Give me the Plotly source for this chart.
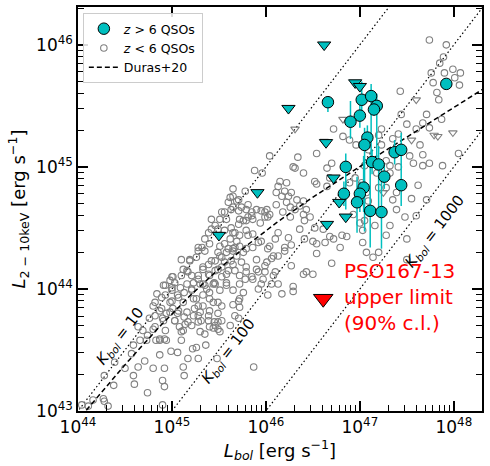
import numpy as np
import plotly.graph_objects as go

# all values are log10 of luminosity in erg/s

# z < 6 QSOs (detections), grouped by region of the plot
lowz_a_lbol = [44.04, 44.16, 44.27, 44.28, 44.32, 44.11, 44.28, 44.38, 44.39, 44.50,
               44.57, 44.59, 44.60, 44.64, 44.71, 44.74, 44.80, 44.87, 44.90, 44.92,
               44.92, 44.90, 44.99, 45.06, 45.12, 45.13, 45.17, 45.22, 45.26, 45.28,
               45.35, 45.36, 45.40, 45.45]
lowz_a_lx = [43.05, 43.09, 43.10, 43.08, 43.04, 43.04, 43.29, 43.21, 43.40, 43.35,
             43.47, 43.29, 43.22, 43.36, 43.41, 43.15, 43.35, 43.46, 43.25, 43.35,
             43.20, 43.05, 43.49, 43.48, 43.36, 43.29, 43.43, 43.51, 43.52, 43.43,
             43.63, 43.54, 43.69, 43.73]

lowz_b_lbol = [44.64, 44.69, 44.59, 44.66, 44.73, 44.74, 44.80, 44.83, 44.87, 44.92,
               44.94, 44.76, 44.82, 44.89, 44.90, 44.94, 44.98, 45.01, 45.03, 45.06,
               45.08, 45.10, 45.13, 45.17, 45.21, 45.24, 45.28, 45.31, 45.33, 45.40,
               45.44, 45.06, 45.13, 45.21, 45.03, 45.10, 45.17, 45.28, 45.35, 45.40,
               45.33, 45.26, 45.45, 44.82, 44.89]
lowz_b_lx = [43.69, 43.66, 43.54, 43.58, 43.58, 43.62, 43.67, 43.58, 43.58, 43.59,
             43.58, 43.76, 43.78, 43.84, 43.76, 43.80, 43.89, 43.84, 43.74, 43.80,
             43.69, 43.65, 43.77, 43.73, 43.70, 43.84, 43.78, 43.74, 43.86, 43.82,
             43.89, 43.95, 43.97, 44.00, 44.05, 44.11, 44.14, 44.08, 44.03, 43.97,
             43.95, 43.92, 44.05, 43.89, 43.93]

lowz_c_lbol = [45.88, 45.96, 45.78, 45.65, 45.60, 45.69, 45.63, 45.56, 45.51, 45.42,
               45.46, 45.74, 45.79, 45.85, 45.90, 45.95, 46.01, 46.04, 45.99, 45.72,
               45.79, 45.86, 45.94, 46.11, 45.65, 45.62, 45.69, 45.56, 45.72, 45.65,
               45.58, 45.51, 45.69, 45.76, 45.46, 45.56, 45.65, 45.39, 45.49, 45.60,
               45.33, 45.28, 45.40, 45.53, 45.23, 45.33, 45.46, 45.58, 45.10, 45.19,
               45.28, 45.32, 45.01, 44.93, 45.00, 45.86, 45.95, 46.02, 45.90, 46.01,
               46.08, 45.90, 45.99, 46.10, 45.86, 45.95, 46.06, 45.79, 45.78]
lowz_c_lx = [44.97, 44.95, 44.80, 44.76, 44.71, 44.72, 44.65, 44.63, 44.57, 44.57,
             44.52, 44.67, 44.65, 44.63, 44.65, 44.64, 44.65, 44.61, 44.59, 44.57,
             44.56, 44.57, 44.54, 44.69, 44.46, 44.41, 44.39, 44.37, 44.35, 44.33,
             44.30, 44.27, 44.27, 44.30, 44.23, 44.22, 44.20, 44.20, 44.16, 44.15,
             44.16, 44.11, 44.11, 44.10, 44.05, 44.04, 44.04, 44.05, 44.24, 44.23,
             44.31, 44.34, 44.10, 44.03, 44.01, 44.34, 44.39, 44.33, 44.24, 44.22,
             44.27, 44.16, 44.14, 44.14, 44.08, 44.04, 44.04, 44.18, 44.08]

lowz_d_lbol = [46.04, 46.34, 46.54, 46.31, 46.40, 46.65, 46.68, 46.15, 46.22, 46.52,
               46.54, 46.65, 46.13, 46.20, 46.11, 46.17, 46.24, 46.27, 46.33, 46.40,
               46.36, 46.43, 46.31, 46.40, 46.47, 46.41, 46.22, 46.26, 46.18, 46.26,
               45.99, 46.02, 45.85, 46.52, 46.61, 46.68, 46.63, 46.50, 46.41, 46.36,
               46.24, 46.13, 46.10, 46.20, 46.04, 45.86]
lowz_d_lx = [45.09, 45.08, 45.11, 44.99, 44.95, 44.99, 44.91, 44.88, 44.87, 44.88,
             44.86, 44.84, 44.84, 44.80, 44.79, 44.76, 44.76, 44.79, 44.73, 44.72,
             44.68, 44.65, 44.65, 44.61, 44.59, 44.56, 44.71, 44.67, 44.63, 44.59,
             44.63, 44.59, 44.60, 44.50, 44.49, 44.43, 44.38, 44.39, 44.41, 44.49,
             44.42, 44.46, 44.41, 44.34, 44.35, 44.45]

lowz_e_lbol = [47.74, 47.92, 47.89, 47.85, 47.76, 47.90, 47.99, 48.07, 48.01, 48.06,
               47.78, 47.82, 47.84, 47.43, 47.44, 47.71, 47.67, 47.87, 47.74, 47.60,
               47.50, 47.41, 47.35, 47.64, 47.67, 47.53, 47.57, 47.67, 47.74, 47.88,
               48.05, 47.62, 47.71, 47.55, 47.39, 47.35, 47.39, 47.41, 47.23, 47.20,
               47.23, 47.28, 47.32, 47.18, 47.32, 47.09, 47.02, 46.96, 46.89, 46.82,
               46.72, 46.29, 46.70, 47.05, 46.95, 47.02, 46.89, 47.07, 47.20, 47.28,
               47.09, 46.93, 47.05, 47.03, 47.00, 47.16, 47.32, 47.48, 47.60, 47.50,
               47.28, 47.03, 46.72, 46.86, 46.54, 46.79]
lowz_e_lx = [46.04, 46.00, 45.90, 45.85, 45.77, 45.77, 45.80, 45.77, 45.73, 45.67,
             45.69, 45.61, 45.55, 45.62, 45.43, 45.43, 45.36, 45.39, 45.32, 45.31,
             45.35, 45.27, 45.23, 45.18, 45.10, 45.09, 45.03, 45.01, 45.03, 45.01,
             45.11, 44.85, 44.73, 44.74, 44.79, 44.73, 44.65, 45.00, 45.31, 45.26,
             45.18, 45.05, 45.01, 44.95, 44.95, 45.14, 45.18, 45.18, 45.22, 45.25,
             45.31, 45.00, 45.03, 45.01, 44.91, 44.87, 44.87, 44.79, 44.83, 44.83,
             44.72, 44.61, 44.56, 44.48, 44.54, 44.52, 44.52, 44.59, 44.60, 44.41,
             44.44, 44.38, 44.41, 44.43, 44.37, 44.34]

lowz_f_lbol = [45.28, 45.35, 45.51, 45.60, 45.67, 45.79, 45.19, 45.26, 45.42, 45.53,
               45.63, 45.74, 45.12, 45.16, 45.21, 45.33, 45.39, 45.46, 45.53, 45.58,
               45.67, 45.72, 45.79, 44.98, 44.91, 45.00, 45.09, 45.16, 45.21, 45.30,
               45.37, 45.44, 45.51, 45.58, 45.65, 45.72, 45.76, 44.84, 44.93, 45.00,
               45.07, 45.12, 45.23, 45.28, 45.40, 45.49, 45.53, 45.71, 45.72, 44.80,
               44.87, 44.98, 45.07, 45.16, 45.23, 45.30, 45.39, 45.49, 45.53, 45.67,
               44.91, 45.03, 45.14, 45.28, 45.39, 45.46, 45.49, 44.82, 44.93, 45.12,
               45.30, 45.62, 44.87, 45.10]
lowz_f_lx = [44.34, 44.31, 44.35, 44.33, 44.34, 44.33, 44.24, 44.26, 44.23, 44.26,
             44.23, 44.22, 44.16, 44.15, 44.11, 44.18, 44.12, 44.15, 44.18, 44.12,
             44.15, 44.11, 44.14, 44.07, 44.03, 43.99, 44.01, 44.04, 43.99, 44.04,
             44.00, 44.04, 43.99, 44.03, 43.99, 44.04, 43.97, 43.96, 43.95, 43.90,
             43.93, 43.89, 43.92, 43.86, 43.92, 43.89, 43.86, 43.90, 43.85, 43.86,
             43.82, 43.81, 43.82, 43.81, 43.78, 43.81, 43.78, 43.80, 43.74, 43.78,
             43.74, 43.74, 43.71, 43.73, 43.74, 43.70, 43.67, 43.69, 43.66, 43.66,
             43.65, 43.70, 43.59, 43.58]

lowz_g_lbol = [45.81, 45.92, 46.27, 46.20, 46.13, 46.06, 45.99, 45.92, 45.85, 45.97,
               46.08, 46.13, 46.17, 46.02, 45.92, 46.29, 46.29, 46.40, 46.43, 46.50,
               46.54, 46.70, 46.81, 47.07, 47.14, 47.20, 47.50, 45.87, 46.27, 45.49,
               45.65, 45.00, 45.44, 45.49, 45.65, 45.72, 45.71, 45.51, 45.48, 45.71,
               45.62, 45.65, 45.71, 45.81, 45.53, 45.58, 45.42, 45.49, 45.56, 45.63,
               45.71, 45.76, 45.81, 45.67, 45.72, 45.79, 45.39, 45.35, 45.40, 45.65]
lowz_g_lx = [44.44, 44.38, 44.36, 44.31, 44.27, 44.25, 44.19, 44.14, 44.10, 44.08,
             44.11, 44.04, 43.96, 43.95, 44.00, 44.02, 43.98, 44.12, 44.14, 44.12,
             44.29, 44.21, 44.44, 44.30, 44.26, 44.30, 44.24, 43.36, 44.19, 44.30,
             44.31, 44.10, 43.68, 43.73, 43.87, 43.92, 43.76, 43.65, 43.43, 44.73,
             44.75, 44.67, 44.64, 44.69, 44.63, 44.57, 44.49, 44.49, 44.48, 44.50,
             44.53, 44.56, 44.59, 44.46, 44.44, 44.48, 44.46, 44.41, 44.37, 44.82]

# z < 6 upper limits
lowz_ul_lbol = [47.60, 47.79, 47.83, 47.99, 46.82, 47.25, 46.62, 46.31, 47.55]
lowz_ul_lx = [45.55, 45.26, 45.25, 45.28, 45.39, 44.79, 45.21, 45.31, 45.22]

# z > 6 QSOs with detections, errors in dex
hiz_lbol = [46.66, 47.02, 47.12, 47.18, 47.15, 47.00, 46.90, 47.08, 47.05, 47.37,
            47.44, 46.85, 47.13, 47.20, 47.26, 47.44, 47.04, 47.00, 46.83, 46.97,
            47.11, 47.23, 47.92]
hiz_lx = [45.53, 45.55, 45.58, 45.50, 45.47, 45.42, 45.37, 45.24, 45.18, 45.12,
          45.14, 45.00, 45.04, 45.02, 44.92, 44.85, 44.83, 44.78, 44.78, 44.71,
          44.64, 44.63, 45.68]
hiz_err_up = [0.03, 0.15, 0.10, 0.10, 0.05, 0.10, 0.17, 0.10, 0.14, 0.10,
              0.05, 0.11, 0.10, 0.15, 0.10, 0.43, 0.26, 0.10, 0.10, 0.21,
              0.40, 0.40, 0.03]
hiz_err_dn = [0.08, 0.15, 0.50, 0.45, 0.05, 0.10, 0.14, 0.10, 0.71, 0.10,
              0.05, 0.35, 0.10, 0.37, 0.10, 0.17, 0.20, 0.15, 0.10, 0.25,
              0.30, 0.30, 0.03]

# z > 6 upper limits
hiz_ul_lbol = [46.62, 46.24, 46.95, 47.00, 46.64, 45.91, 46.72, 46.78, 46.85, 46.65, 45.50]
hiz_ul_lx = [46.00, 45.48, 45.69, 45.66, 45.20, 44.79, 44.91, 44.71, 44.59, 44.53, 44.44]

# PSO167-13
pso_lbol = [46.61]
pso_lx = [43.92]

# Duras+20 bolometric correction parameters
duras_a, duras_b, duras_c = 10.96, 11.93, 17.79
L_SUN = 3.828e33
kbol_values = [10, 100, 1000]

FONT = "DejaVu Sans"
CYAN = "#00bfbf"
GREY = "#808080"


def lin(v):
    return [10.0 ** x for x in v]


lowz_lbol = (lowz_a_lbol + lowz_b_lbol + lowz_c_lbol + lowz_d_lbol
             + lowz_e_lbol + lowz_f_lbol + lowz_g_lbol)
lowz_lx = (lowz_a_lx + lowz_b_lx + lowz_c_lx + lowz_d_lx
           + lowz_e_lx + lowz_f_lx + lowz_g_lx)

fig = go.Figure()

# constant Kbol lines
lb_line = np.array([1e43, 1e49])
for k in kbol_values:
    fig.add_trace(go.Scatter(x=lb_line, y=lb_line / k, mode="lines",
                             line=dict(color="black", width=1.2, dash="1.5px,2.5px"),
                             showlegend=False, hoverinfo="skip"))

fig.add_trace(go.Scatter(x=lin(lowz_lbol), y=lin(lowz_lx), mode="markers",
                         marker=dict(symbol="circle-open", size=6.5, color=GREY,
                                     line=dict(width=1.1, color=GREY)),
                         name="<i>z</i> < 6 QSOs", legendrank=2))
fig.add_trace(go.Scatter(x=lin(lowz_ul_lbol), y=lin(lowz_ul_lx), mode="markers",
                         marker=dict(symbol="triangle-down-open", size=7.5, color=GREY,
                                     line=dict(width=1.1, color=GREY)),
                         showlegend=False))

# Duras+20 relation
lb = np.logspace(43.5, 48.8, 200)
kx = duras_a * (1 + (np.log10(lb / L_SUN) / duras_b) ** duras_c)
fig.add_trace(go.Scatter(x=lb, y=lb / kx, mode="lines",
                         line=dict(color="black", width=1.5, dash="5px,3px"),
                         name="Duras+20", legendrank=3, hoverinfo="skip"))

y_hiz = np.array(hiz_lx)
err_up = 10 ** (y_hiz + np.array(hiz_err_up)) - 10 ** y_hiz
err_dn = 10 ** y_hiz - 10 ** (y_hiz - np.array(hiz_err_dn))
fig.add_trace(go.Scatter(x=lin(hiz_lbol), y=lin(hiz_lx), mode="markers",
                         marker=dict(symbol="circle", size=11.5, color=CYAN,
                                     line=dict(width=1, color="black")),
                         error_y=dict(type="data", symmetric=False, array=err_up,
                                      arrayminus=err_dn, color=CYAN, thickness=1.5, width=0),
                         name="<i>z</i> > 6 QSOs", legendrank=1))
fig.add_trace(go.Scatter(x=lin(hiz_ul_lbol), y=lin(hiz_ul_lx), mode="markers",
                         marker=dict(symbol="triangle-down", size=11.5, color=CYAN,
                                     line=dict(width=1, color="black")),
                         showlegend=False))
fig.add_trace(go.Scatter(x=lin(pso_lbol), y=lin(pso_lx), mode="markers",
                         marker=dict(symbol="triangle-down", size=17, color="red",
                                     line=dict(width=1, color="black")),
                         showlegend=False))

# helper trace so the top axis (major ticks only) is drawn
fig.add_trace(go.Scatter(x=[1e45], y=[1e44], xaxis="x2", mode="markers",
                         marker=dict(opacity=0), showlegend=False, hoverinfo="skip"))

x_exp = list(range(44, 49))
y_exp = list(range(43, 47))
x_major = [10.0 ** e for e in x_exp]
y_major = [10.0 ** e for e in y_exp]
minor_vals = [m * 10.0 ** e for e in range(43, 49) for m in range(2, 10)]


def sup_labels(exps):
    return ["10<sup>%d</sup>" % e for e in exps]


axis_common = dict(type="log", showgrid=False, zeroline=False, showline=True,
                   linecolor="black", linewidth=1.5, ticks="inside", ticklen=10,
                   tickwidth=1.5, tickcolor="black", automargin=False,
                   tickfont=dict(family=FONT, size=17, color="black"),
                   minor=dict(tickvals=minor_vals, ticks="inside", ticklen=6,
                              tickwidth=1, tickcolor="black"))

fig.update_layout(
    width=490, height=466,
    margin=dict(l=78, r=8, t=7, b=55),
    paper_bgcolor="white", plot_bgcolor="white",
    font=dict(family=FONT, color="black"),
    xaxis=dict(axis_common, range=[44.0, 48.3], mirror=True,
               tickvals=x_major, ticktext=sup_labels(x_exp),
               title=dict(text="<i>L</i><sub><i>bol</i></sub> [erg s<sup>−1</sup>]",
                          font=dict(size=18), standoff=6)),
    xaxis2=dict(type="log", range=[44.0, 48.3], overlaying="x", side="top",
                showgrid=False, zeroline=False, showline=False, ticks="inside",
                ticklen=10, tickwidth=1.5, tickcolor="black", tickvals=x_major,
                showticklabels=False, automargin=False),
    yaxis=dict(axis_common, range=[43.0, 46.31], mirror="ticks",
               tickvals=y_major, ticktext=sup_labels(y_exp),
               title=dict(text="<i>L</i><sub>2 − 10keV</sub> [erg s<sup>−1</sup>]",
                          font=dict(size=18), standoff=6)),
    legend=dict(x=0.012, y=0.985, xanchor="left", yanchor="top",
                bgcolor="rgba(255,255,255,0.85)", bordercolor="#cccccc", borderwidth=1,
                font=dict(family=FONT, size=12.5), itemsizing="trace",
                tracegroupgap=0),
    showlegend=True,
)

k_labels = [("<i>K</i><sub><i>bol</i></sub> = 10", 44.45, 43.61),
            ("<i>K</i><sub><i>bol</i></sub> = 100", 45.60, 43.49),
            ("<i>K</i><sub><i>bol</i></sub> = 1000", 47.80, 44.47)]
for txt, ax, ay in k_labels:
    fig.add_annotation(x=ax, y=ay, xref="x", yref="y", text=txt, showarrow=False,
                       textangle=-52.5, font=dict(family=FONT, size=15, color="black"))

fig.add_annotation(x=46.81, y=43.93, xref="x", yref="y",
                   text="PSO167-13<br>upper limit<br>(90% c.l.)",
                   showarrow=False, xanchor="left", yanchor="middle", align="left",
                   font=dict(family=FONT, size=20, color="red"))

# drop the default 8px body margin so the figure sits at the page corner
fig.write_html("out.html", config={"displayModeBar": False},
               post_script="document.body.style.margin = '0px';")
